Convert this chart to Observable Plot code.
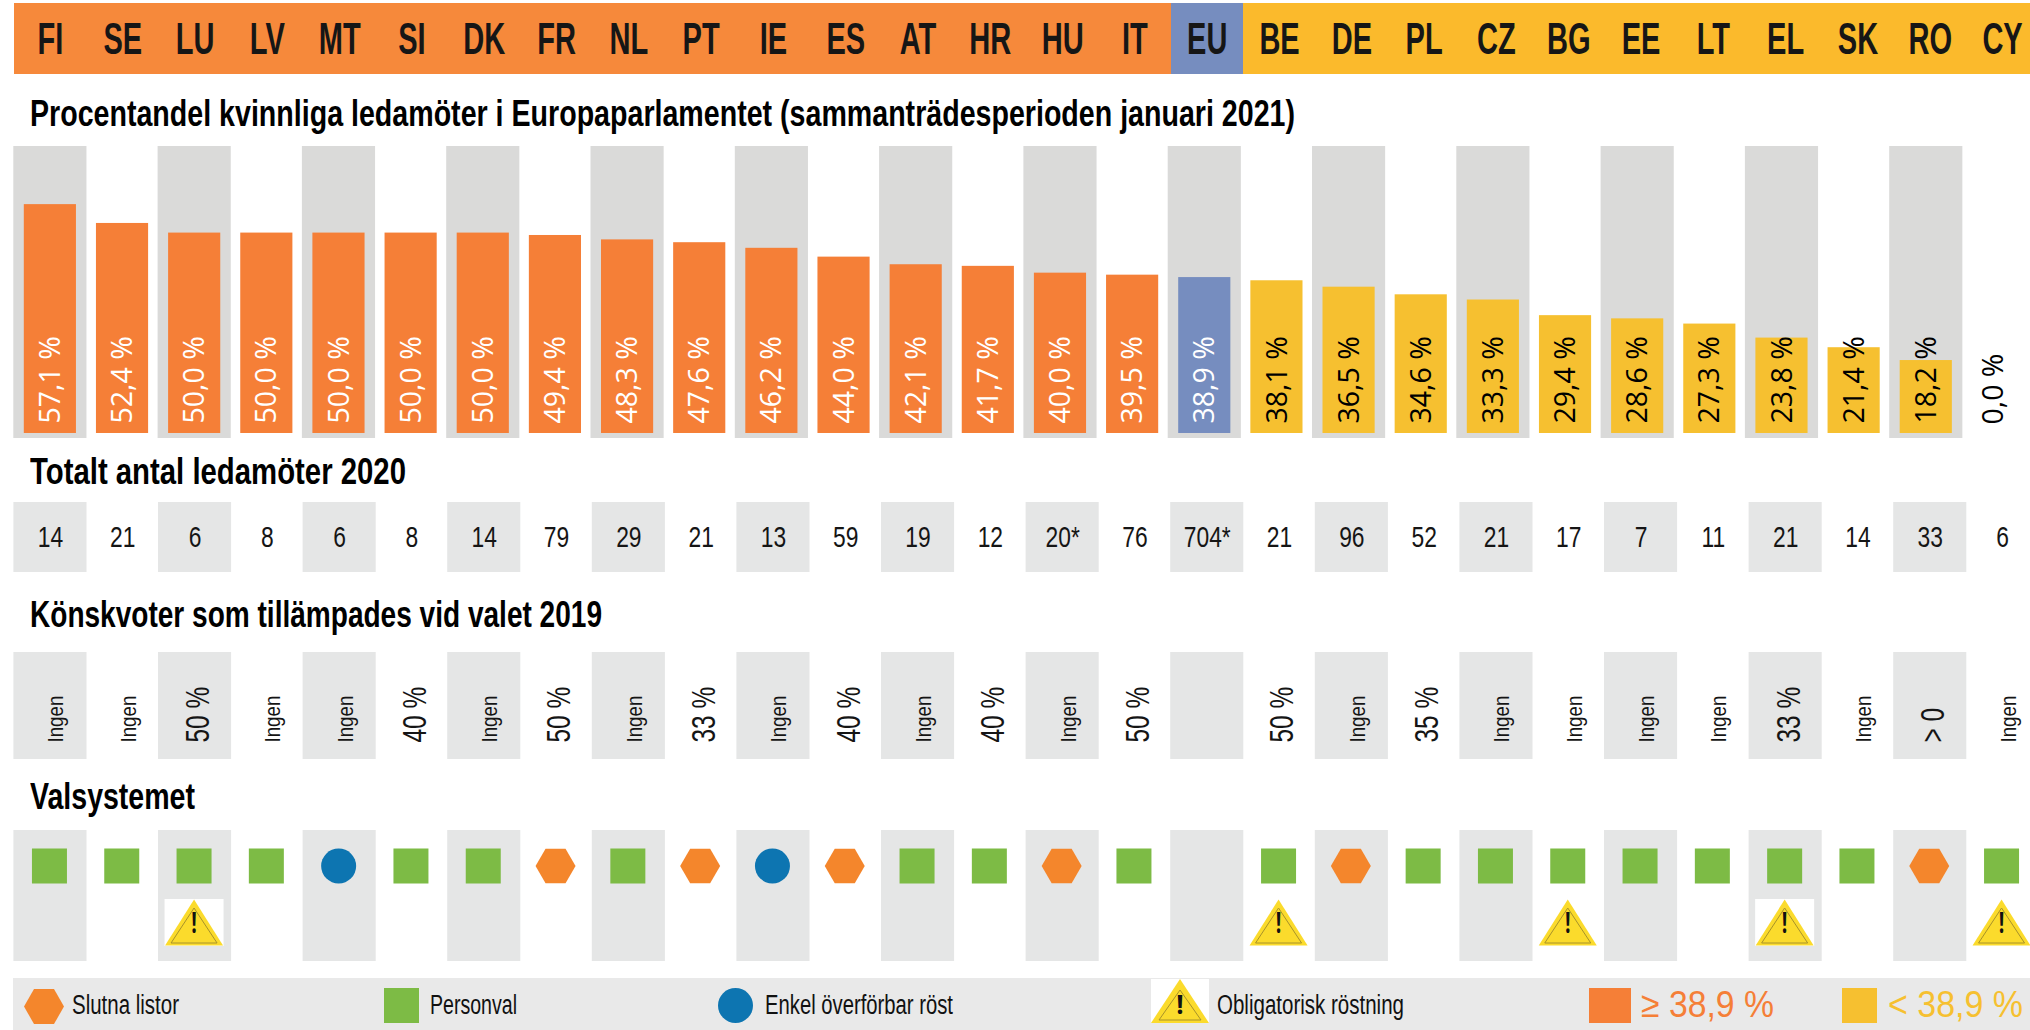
<!DOCTYPE html>
<html lang="sv"><head><meta charset="utf-8">
<script src="https://cdn.jsdelivr.net/npm/d3@7"></script>
<script src="https://cdn.jsdelivr.net/npm/@observablehq/plot@0.6"></script>
<style>
html,body{margin:0;padding:0;background:#fff;width:2030px;height:1030px;overflow:hidden}
#root{position:relative;width:2030px;height:1030px;overflow:hidden}
.row{position:absolute;left:0}
.row svg{display:block;background:transparent}
.h{position:absolute;left:30px;font:bold 36px "Liberation Sans",sans-serif;color:#000;white-space:nowrap;transform-origin:0 50%}
.leg{position:absolute;left:13px;top:978px;width:2017px;height:52px;background:#e9e9e9}
.leg span{position:absolute;top:12px;font:27px "Liberation Sans",sans-serif;white-space:nowrap;color:#111;transform-origin:0 50%}
.leg span.big{top:6px;font-size:36px}
.leg svg,.leg i{position:absolute}
</style></head><body><div id="root"></div>
<script>
const countries = ["FI","SE","LU","LV","MT","SI","DK","FR","NL","PT","IE","ES","AT","HR","HU","IT","EU","BE","DE","PL","CZ","BG","EE","LT","EL","SK","RO","CY"];
const women = [57.1,52.4,50.0,50.0,50.0,50.0,50.0,49.4,48.3,47.6,46.2,44.0,42.1,41.7,40.0,39.5,38.9,38.1,36.5,34.6,33.3,29.4,28.6,27.3,23.8,21.4,18.2,0.0];
const members = ["14","21","6","8","6","8","14","79","29","21","13","59","19","12","20*","76","704*","21","96","52","21","17","7","11","21","14","33","6"];
const quotas = ["Ingen","Ingen","50 %","Ingen","Ingen","40 %","Ingen","50 %","Ingen","33 %","Ingen","40 %","Ingen","40 %","Ingen","50 %","","50 %","Ingen","35 %","Ingen","Ingen","Ingen","Ingen","33 %","Ingen","> 0","Ingen"];
const systems = ["P","P","P","P","S","P","P","L","P","L","S","L","P","P","L","P","","P","L","P","P","P","P","P","P","P","L","P"];
const compulsory = ["LU","BE","BG","EL","CY"];
const onGray = ["LU","EL"];
const euAverage = 38.9;

const ORANGE="#f57f37", YELLOW="#f6c030", BLUE="#768dbf", GRAY="#dadad9", LGRAY="#e5e6e6";
const HEAD_O="#f6893b", HEAD_Y="#fbba2c";
const narrow='"Liberation Sans",sans-serif';
const sans='"Open Sans",sans-serif';
const shaded = countries.filter((_,i)=>i%2===0);
const rows = countries.map((c,i)=>({c,w:women[i],m:members[i],q:quotas[i],s:systems[i]}));
const root=document.getElementById("root");
// squeeze the glyphs of marked text to imitate the condensed face of the reference
function place(node,top,squeeze={}){
  const d=document.createElement("div");d.className="row";d.style.top=top+"px";d.appendChild(node);root.appendChild(d);
  for(const [cls,k] of Object.entries(squeeze)){
    node.querySelectorAll(`g.${cls} text`).forEach(t=>{
      const len=t.getComputedTextLength();
      t.setAttribute("textLength",(len*k).toFixed(1));
      t.setAttribute("lengthAdjust","spacingAndGlyphs");
    });
  }
}
function fit(el,w){el.style.transform=`scaleX(${w/el.getBoundingClientRect().width})`;}
function heading(t,top,w){const d=document.createElement("div");d.className="h";d.textContent=t;d.style.top=top+"px";root.appendChild(d);fit(d,w);}
const xLow={type:"band",domain:countries,range:[13.8,13.8+28*72.3],padding:0,round:false,axis:null};
const xTop={type:"band",domain:countries,range:[13.8,13.8+28*72.15],padding:0,round:false,axis:null};
const base={width:2030,marginLeft:0,marginRight:0,marginTop:0,marginBottom:0,style:{background:"transparent"}};

// header band
place(Plot.plot({...base,height:71,x:xLow,y:{axis:null},
 marks:[
  Plot.cell(rows,{x:"c",fill:d=>d.c==="EU"?BLUE:d.w>euAverage?HEAD_O:HEAD_Y,shapeRendering:"crispEdges",insetRight:-1}),
  Plot.text(rows,{x:"c",text:"c",frameAnchor:"middle",dy:1,className:"hdr",fontFamily:narrow,fontWeight:"bold",fontSize:44,fill:"#161616"})
 ]}),3,{hdr:0.66});

heading("Procentandel kvinnliga ledamöter i Europaparlamentet (sammanträdesperioden januari 2021)",93,1265);

// percentage bars
const posLabels=rows.filter(d=>d.w>0);
place(Plot.plot({...base,height:292,x:xTop,y:{domain:[-1.25,71.6],range:[292,0],axis:null},
 marks:[
  Plot.cell(shaded,{x:d=>d,fill:GRAY,insetLeft:-0.5,insetRight:-0.5}),
  Plot.barY(rows,{x:"c",y:"w",fill:d=>d.c==="EU"?BLUE:d.w>euAverage?ORANGE:YELLOW,insetLeft:10,insetRight:10}),
  Plot.text(posLabels.filter(d=>d.w>=euAverage),{x:"c",y:()=>0,text:d=>d.w.toFixed(1).replace(".",",")+" %",className:"pct",rotate:-90,textAnchor:"start",lineAnchor:"middle",dy:-10,fontFamily:sans,fontSize:30,fill:"#fff"}),
  Plot.text(posLabels.filter(d=>d.w<euAverage),{x:"c",y:()=>0,text:d=>d.w.toFixed(1).replace(".",",")+" %",className:"pct",rotate:-90,textAnchor:"start",lineAnchor:"middle",dy:-10,fontFamily:sans,fontSize:30,fill:"#000"}),
  Plot.text(rows.filter(d=>d.w===0),{x:"c",y:()=>0,text:()=>"0,0 %",className:"pct",rotate:-90,textAnchor:"start",lineAnchor:"middle",dy:-9,dx:-5,fontFamily:sans,fontSize:30,fill:"#000"})
 ]}),146,{pct:0.95});

heading("Totalt antal ledamöter 2020",451,376);

// member totals
place(Plot.plot({...base,height:70,x:xLow,y:{axis:null},
 marks:[
  Plot.cell(shaded,{x:d=>d,fill:LGRAY,insetLeft:-0.4,insetRight:-0.4}),
  Plot.text(rows,{x:"c",text:"m",frameAnchor:"middle",className:"num",fontFamily:narrow,fontSize:30,fill:"#151515"})
 ]}),502,{num:0.76});

heading("Könskvoter som tillämpades vid valet 2019",594,572);

// quotas
const isIngen=d=>d.q==="Ingen";
place(Plot.plot({...base,height:107,x:xLow,y:{axis:null},
 marks:[
  Plot.cell(shaded,{x:d=>d,fill:LGRAY,insetLeft:-0.4,insetRight:-0.4}),
  Plot.text(rows.filter(isIngen),{x:"c",text:"q",className:"ing",rotate:-90,frameAnchor:"bottom",textAnchor:"start",lineAnchor:"middle",dy:-17,dx:6,fontFamily:narrow,fontSize:22,fill:"#151515"}),
  Plot.text(rows.filter(d=>d.q&&!isIngen(d)),{x:"c",text:"q",className:"quo",rotate:-90,frameAnchor:"bottom",textAnchor:"start",lineAnchor:"middle",dy:-17,dx:3,fontFamily:narrow,fontSize:34,fill:"#151515"})
 ]}),652,{ing:0.85,quo:0.72});

heading("Valsystemet",776,165);

// electoral system
const tri=(w,h)=>({draw(ctx,size){const k=Math.sqrt(size/Math.PI)/20;ctx.moveTo(0,-h/2*k);ctx.lineTo(w/2*k,h/2*k);ctx.lineTo(-w/2*k,h/2*k);ctx.closePath();}});
const box=(w,h)=>({draw(ctx,size){const k=Math.sqrt(size/Math.PI)/20;ctx.rect(-w/2*k,-h/2*k,w*k,h*k);}});
const warn=rows.filter(d=>compulsory.includes(d.c));
const ROWS=["system","compulsory"];
place(Plot.plot({...base,height:131,x:xLow,y:{type:"point",domain:ROWS,range:[35.5,92],padding:0,round:false,axis:null},
 marks:[
  Plot.cell(shaded,{x:d=>d,fill:LGRAY,insetLeft:-0.4,insetRight:-0.4}),
  Plot.dot(rows.filter(d=>d.s==="P"),{x:"c",y:()=>"system",r:19.75,symbol:"square",fill:"#7dbb45",dx:-1}),
  Plot.dot(rows.filter(d=>d.s==="L"),{x:"c",y:()=>"system",r:17.32,symbol:"hexagon",rotate:90,fill:"#f4862c",dx:-1}),
  Plot.dot(rows.filter(d=>d.s==="S"),{x:"c",y:()=>"system",r:17.5,symbol:"circle",fill:"#0d75b1",dx:-1}),
  Plot.dot(warn.filter(d=>onGray.includes(d.c)),{x:"c",y:()=>"compulsory",r:20,symbol:box(59,47),fill:"#fff",dx:-1}),
  Plot.dot(warn,{x:"c",y:()=>"compulsory",r:20,symbol:tri(58,46),fill:"#fbdb2c",dx:-1}),
  Plot.dot(warn,{x:"c",y:()=>"compulsory",r:20,symbol:tri(46,35),fill:"none",stroke:"#a8922a",strokeWidth:1,dy:3,dx:-1}),
  Plot.text(warn,{x:"c",y:()=>"compulsory",text:()=>"!",className:"bang",fontFamily:sans,fontWeight:"bold",fontSize:28,fill:"#111",dy:2,dx:-1})
 ]}),830,{bang:0.7});

// legend
const leg=document.createElement("div");leg.className="leg";
const warnIcon=(l)=>`<svg style="left:${l}px;top:1px;background:#fff" width="58" height="44" viewBox="-29 -22 58 44"><path d="M0-22L29 22H-29Z" fill="#fbdb2c"/><path d="M0-11L21 19H-21Z" fill="none" stroke="#a8922a"/><text y="13" text-anchor="middle" font-family="Open Sans" font-weight="700" font-size="26" fill="#111">!</text></svg>`;
leg.innerHTML=`
<svg style="left:11px;top:11px" width="40" height="35" viewBox="-20 -17.5 40 35"><path d="M-20 0L-10-17.5H10L20 0L10 17.5H-10Z" fill="#f4862c"/></svg>
<span style="left:59px" data-w="107">Slutna listor</span>
<i style="left:371px;top:10px;width:35px;height:35px;background:#7dbb45"></i>
<span style="left:417px" data-w="87">Personval</span>
<svg style="left:705px;top:10px" width="35" height="35"><circle cx="17.5" cy="17.5" r="17.5" fill="#0d75b1"/></svg>
<span style="left:752px" data-w="188">Enkel överförbar röst</span>
${warnIcon(1138)}
<span style="left:1204px" data-w="187">Obligatorisk röstning</span>
<i style="left:1576px;top:10px;width:42px;height:35px;background:${ORANGE}"></i>
<span class="big" style="left:1628px;color:${ORANGE}" data-w="133">≥ 38,9 %</span>
<i style="left:1829px;top:10px;width:35px;height:35px;background:${YELLOW}"></i>
<span class="big" style="left:1875px;color:${YELLOW}" data-w="135">&lt; 38,9 %</span>`;
root.appendChild(leg);
leg.querySelectorAll("span").forEach(s=>fit(s,+s.dataset.w));
</script></body></html>
